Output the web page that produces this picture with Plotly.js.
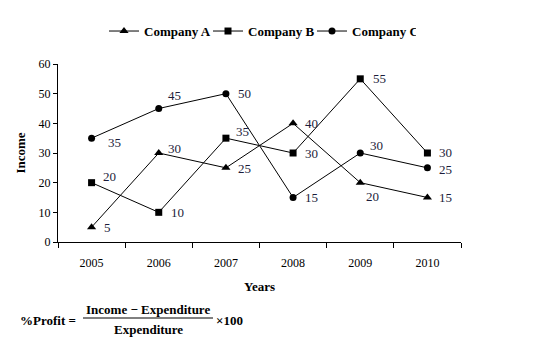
<!DOCTYPE html>
<html>
<head>
<meta charset="utf-8">
<script src="https://cdn.plot.ly/plotly-3.0.1.min.js"></script>
<style>html,body{margin:0;padding:0;background:#fff;}#chart{width:544px;height:345px;}</style>
</head>
<body>
<div id="chart"></div>
<script>
const years = ["2005", "2006", "2007", "2008", "2009", "2010"];
const companyA = [5, 30, 25, 40, 20, 15];
const companyB = [20, 10, 35, 30, 55, 30];
const companyC = [35, 45, 50, 15, 30, 25];

// label offsets (pixels) relative to each marker: [dx, dy], dy positive = up
const offA = [[10, 0], [7, 5], [10, -1], [10, 0], [4, -14], [10, 0]];
const offB = [[9, 6], [10, 0], [8, 7], [10, 0], [11, 0], [10, 1]];
const offC = [[14, -4], [7, 13], [10, 0], [10, 0], [8, 8], [10, -2]];

const serif = "Liberation Serif, Times New Roman, serif";
const labelColor = "#1c1c3a";

function series(name, vals, symbol, size) {
  return {
    type: "scatter", mode: "lines+markers", name: name,
    x: years, y: vals,
    line: {color: "#000", width: 1},
    marker: {symbol: symbol, size: size, color: "#000"},
    cliponaxis: false
  };
}

const data = [
  series("Company A", companyA, "triangle-up", 8),
  series("Company B", companyB, "square", 7),
  series("Company C", companyC, "circle", 7)
];

const annotations = [];
const groups = [[companyA, offA], [companyB, offB], [companyC, offC]];
for (let g = 0; g < groups.length; g++) {
  const vals = groups[g][0], offs = groups[g][1];
  for (let i = 0; i < vals.length; i++) {
    annotations.push({
      x: i, y: vals[i], xref: "x", yref: "y", text: String(vals[i]), showarrow: false,
      xanchor: "left", yanchor: "middle", xshift: offs[i][0], yshift: offs[i][1],
      font: {family: serif, size: 13, color: labelColor}
    });
  }
}

const L = 58, W = 403, B = 242, H = 178;
const px = x => (x - L) / W;
const py = y => (B - y) / H;

annotations.push(
  {xref: "paper", yref: "paper", x: px(78), y: py(320), xanchor: "right", yanchor: "middle",
   text: "<b>%Profit =</b>", showarrow: false, font: {family: serif, size: 13}},
  {xref: "paper", yref: "paper", x: px(148), y: py(309), xanchor: "center", yanchor: "middle",
   text: "<b>Income − Expenditure</b>", showarrow: false, font: {family: serif, size: 13}},
  {xref: "paper", yref: "paper", x: px(148), y: py(329), xanchor: "center", yanchor: "middle",
   text: "<b>Expenditure</b>", showarrow: false, font: {family: serif, size: 13}},
  {xref: "paper", yref: "paper", x: px(214), y: py(320), xanchor: "left", yanchor: "middle",
   text: "<b>×100</b>", showarrow: false, font: {family: serif, size: 13}}
);

const layout = {
  width: 544, height: 345,
  margin: {l: 58, r: 83, t: 64, b: 103},
  paper_bgcolor: "#fff", plot_bgcolor: "#fff",
  font: {family: serif, size: 12, color: "#000"},
  showlegend: true,
  legend: {
    orientation: "h", x: px(104), xanchor: "left", y: 1.185, yanchor: "middle",
    font: {family: serif, size: 13, color: "#000", weight: "bold"},
    itemwidth: 30, tracegroupgap: 0, entrywidth: 59, entrywidthmode: "pixels"
  },
  xaxis: {
    type: "category", tickson: "boundaries", ticks: "outside", ticklen: 5,
    tickcolor: "#000", showline: true, linecolor: "#000", linewidth: 1,
    showgrid: false, zeroline: false,
    tickfont: {family: serif, size: 12},
    ticklabelstandoff: 10,
    range: [-0.5, 5.5],
    title: {text: "<b>Years</b>", font: {family: serif, size: 13}, standoff: 12}
  },
  yaxis: {
    range: [0, 60], dtick: 10, ticks: "outside", ticklen: 4,
    tickcolor: "#000", showline: true, linecolor: "#000", linewidth: 1,
    showgrid: false, zeroline: false,
    tickfont: {family: serif, size: 12},
    title: {text: "<b>Income</b>", font: {family: serif, size: 13}, standoff: 10}
  },
  shapes: [
    {type: "line", xref: "paper", yref: "paper", x0: px(83), x1: px(213),
     y0: py(318), y1: py(318), line: {color: "#000", width: 1}}
  ],
  annotations: annotations
};

Plotly.newPlot("chart", data, layout, {displayModeBar: false, staticPlot: true});
</script>
</body>
</html>
